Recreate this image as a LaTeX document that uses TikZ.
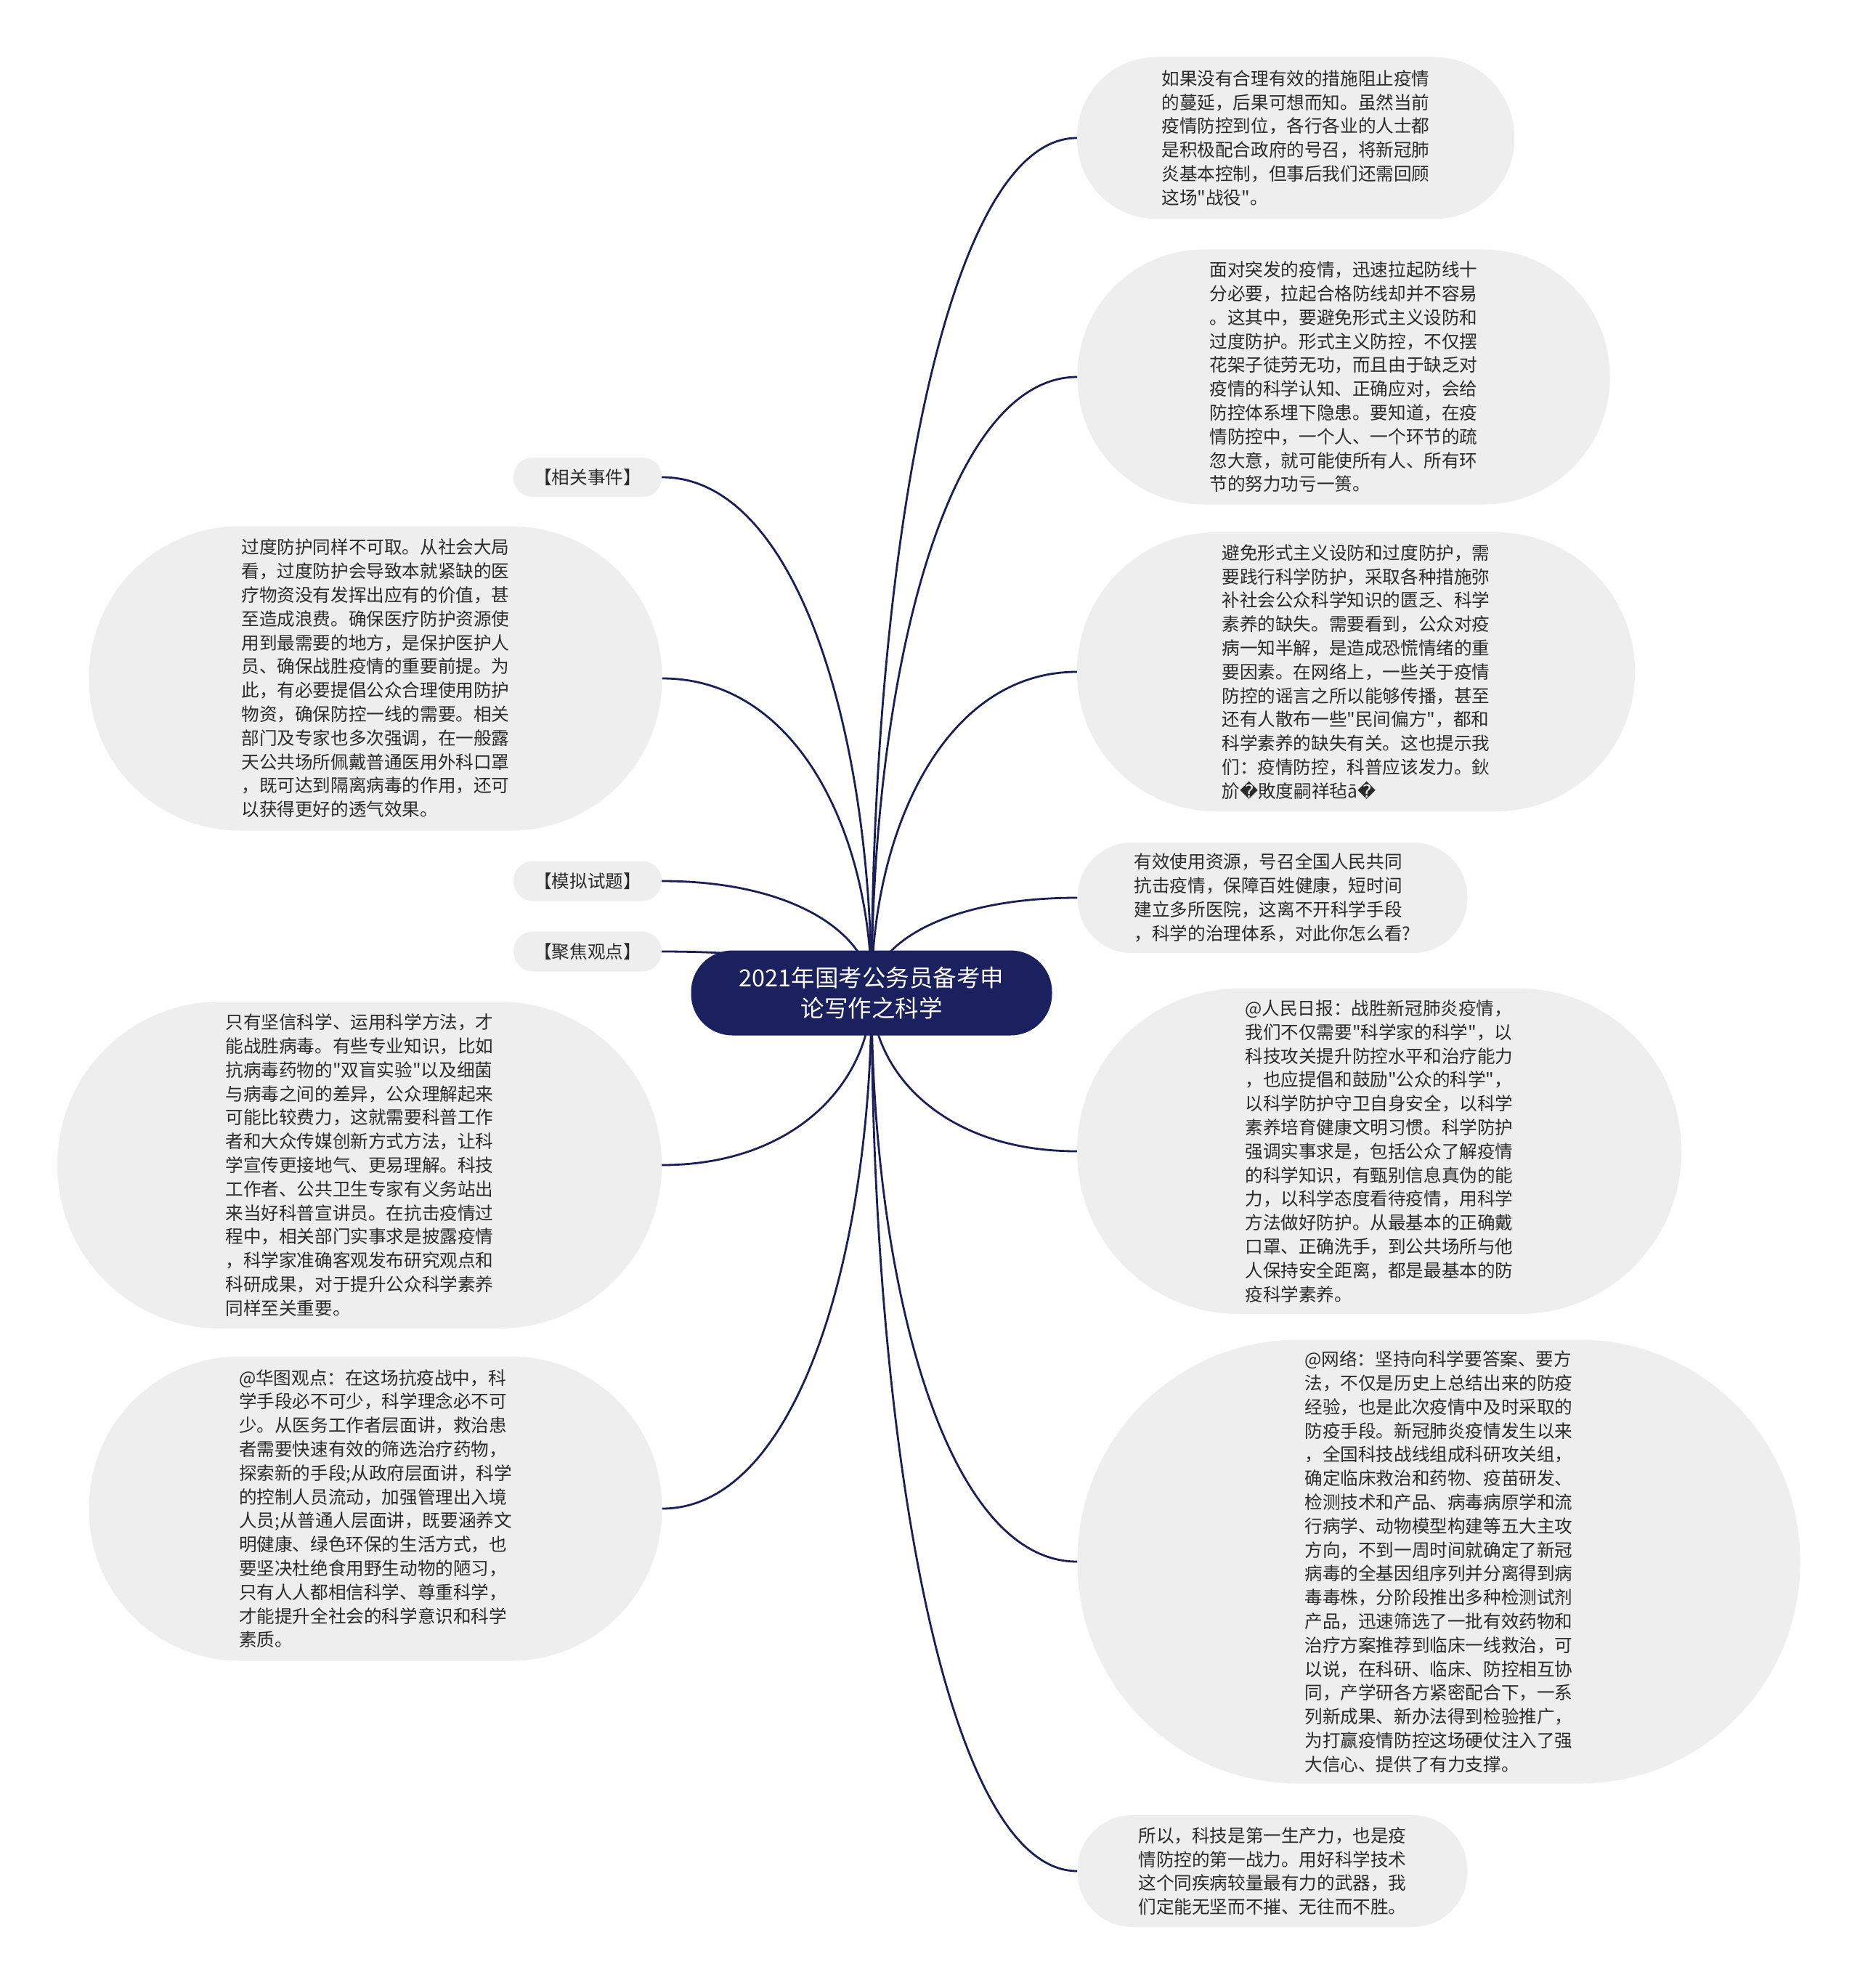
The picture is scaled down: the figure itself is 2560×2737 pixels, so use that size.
\documentclass[tikz,border=0pt]{standalone}
\usepackage{fontspec}
\newfontfamily\cjk{Noto Sans CJK SC}
\newfontfamily\dvs{DejaVu Sans}
\usetikzlibrary{calc}
\definecolor{bubfill}{HTML}{EEEEEE}
\definecolor{txt}{HTML}{2B2B2B}
\definecolor{navy}{HTML}{1B205E}
\definecolor{linecol}{HTML}{1A1F57}
\pgfdeclarelayer{back}
\pgfdeclarelayer{lines}
\pgfsetlayers{back,lines,main}
\newcommand\rplc{{\dvs\symbol{"FFFD}}}
\newcommand\linkto[1]{\draw[conn] (c.center) .. controls ($(c.center)!0.5!(c.center |- #1)$) and ($(#1)!0.65!(#1 -| c.center)$) .. (#1);}
\tikzset{
  bub/.style={fill=bubfill, text=txt, align=left, inner sep=0pt, font=\cjk\fontsize{24.6pt}{32.8pt}\selectfont},
  rootbox/.style={fill=navy, text=white, align=center, inner sep=0pt, font=\cjk\fontsize{32.5pt}{42pt}\selectfont},
  conn/.style={draw=linecol, line width=2.8pt},
}
\begin{document}
\begin{tikzpicture}[x=1pt, y=-1pt]
\useasboundingbox (0,0) rectangle (2560,2737);
\begin{pgfonlayer}{back}
\fill[white] (0,0) rectangle (2560,2737);
\end{pgfonlayer}

% root
\node[rootbox, minimum width=497pt, minimum height=117pt, rounded corners=57pt] (c) at (1200,1367)
 {2021年国考公务员备考申\\论写作之科学};

% right side
\node[bub, minimum width=602pt, minimum height=223pt, rounded corners=110pt] (r1) at (1784,190)
 {如果没有合理有效的措施阻止疫情\\的蔓延，后果可想而知。虽然当前\\疫情防控到位，各行各业的人士都\\是积极配合政府的号召，将新冠肺\\炎基本控制，但事后我们还需回顾\\这场"战役"。};

\node[bub, minimum width=733pt, minimum height=351pt, rounded corners=174pt] (r2) at (1850,519)
 {面对突发的疫情，迅速拉起防线十\\分必要，拉起合格防线却并不容易\\。这其中，要避免形式主义设防和\\过度防护。形式主义防控，不仅摆\\花架子徒劳无功，而且由于缺乏对\\疫情的科学认知、正确应对，会给\\防控体系埋下隐患。要知道，在疫\\情防控中，一个人、一个环节的疏\\忽大意，就可能使所有人、所有环\\节的努力功亏一篑。};

\node[bub, minimum width=768pt, minimum height=384pt, rounded corners=191pt] (r3) at (1867,925)
 {避免形式主义设防和过度防护，需\\要践行科学防护，采取各种措施弥\\补社会公众科学知识的匮乏、科学\\素养的缺失。需要看到，公众对疫\\病一知半解，是造成恐慌情绪的重\\要因素。在网络上，一些关于疫情\\防控的谣言之所以能够传播，甚至\\还有人散布一些"民间偏方"，都和\\科学素养的缺失有关。这也提示我\\们：疫情防控，科普应该发力。鈥\\斺\rplc 敗度嗣祥毡ā\rplc};

\node[bub, minimum width=537pt, minimum height=152pt, rounded corners=75pt] (r4) at (1752,1236)
 {有效使用资源，号召全国人民共同\\抗击疫情，保障百姓健康，短时间\\建立多所医院，这离不开科学手段\\，科学的治理体系，对此你怎么看?};

\node[bub, minimum width=832pt, minimum height=448pt, rounded corners=223pt] (r5) at (1899,1585)
 {@人民日报：战胜新冠肺炎疫情，\\我们不仅需要"科学家的科学"，以\\科技攻关提升防控水平和治疗能力\\，也应提倡和鼓励"公众的科学"，\\以科学防护守卫自身安全，以科学\\素养培育健康文明习惯。科学防护\\强调实事求是，包括公众了解疫情\\的科学知识，有甄别信息真伪的能\\力，以科学态度看待疫情，用科学\\方法做好防护。从最基本的正确戴\\口罩、正确洗手，到公共场所与他\\人保持安全距离，都是最基本的防\\疫科学素养。};

\node[bub, minimum width=995pt, minimum height=611pt, rounded corners=304pt] (r6) at (1981,2150)
 {@网络：坚持向科学要答案、要方\\法，不仅是历史上总结出来的防疫\\经验，也是此次疫情中及时采取的\\防疫手段。新冠肺炎疫情发生以来\\，全国科技战线组成科研攻关组，\\确定临床救治和药物、疫苗研发、\\检测技术和产品、病毒病原学和流\\行病学、动物模型构建等五大主攻\\方向，不到一周时间就确定了新冠\\病毒的全基因组序列并分离得到病\\毒毒株，分阶段推出多种检测试剂\\产品，迅速筛选了一批有效药物和\\治疗方案推荐到临床一线救治，可\\以说，在科研、临床、防控相互协\\同，产学研各方紧密配合下，一系\\列新成果、新办法得到检验推广，\\为打赢疫情防控这场硬仗注入了强\\大信心、提供了有力支撑。};

\node[bub, minimum width=537pt, minimum height=154pt, rounded corners=76pt] (r7) at (1752,2576)
 {所以，科技是第一生产力，也是疫\\情防控的第一战力。用好科学技术\\这个同疾病较量最有力的武器，我\\们定能无坚而不摧、无往而不胜。};

% left side
\node[bub, minimum width=204pt, minimum height=54pt, rounded corners=26pt] (l1) at (809,657) {【相关事件】};

\node[bub, minimum width=789pt, minimum height=419pt, rounded corners=208pt] (l2) at (517,934)
 {过度防护同样不可取。从社会大局\\看，过度防护会导致本就紧缺的医\\疗物资没有发挥出应有的价值，甚\\至造成浪费。确保医疗防护资源使\\用到最需要的地方，是保护医护人\\员、确保战胜疫情的重要前提。为\\此，有必要提倡公众合理使用防护\\物资，确保防控一线的需要。相关\\部门及专家也多次强调，在一般露\\天公共场所佩戴普通医用外科口罩\\，既可达到隔离病毒的作用，还可\\以获得更好的透气效果。};

\node[bub, minimum width=204pt, minimum height=55pt, rounded corners=27pt] (l3) at (809,1213) {【模拟试题】};

\node[bub, minimum width=204pt, minimum height=55pt, rounded corners=27pt] (l4) at (809,1310) {【聚焦观点】};

\node[bub, minimum width=832pt, minimum height=450pt, rounded corners=224pt] (l5) at (495,1604)
 {只有坚信科学、运用科学方法，才\\能战胜病毒。有些专业知识，比如\\抗病毒药物的"双盲实验"以及细菌\\与病毒之间的差异，公众理解起来\\可能比较费力，这就需要科普工作\\者和大众传媒创新方式方法，让科\\学宣传更接地气、更易理解。科技\\工作者、公共卫生专家有义务站出\\来当好科普宣讲员。在抗击疫情过\\程中，相关部门实事求是披露疫情\\，科学家准确客观发布研究观点和\\科研成果，对于提升公众科学素养\\同样至关重要。};

\node[bub, minimum width=789pt, minimum height=419pt, rounded corners=208pt] (l6) at (517,2077)
 {@华图观点：在这场抗疫战中，科\\学手段必不可少，科学理念必不可\\少。从医务工作者层面讲，救治患\\者需要快速有效的筛选治疗药物，\\探索新的手段;从政府层面讲，科学\\的控制人员流动，加强管理出入境\\人员;从普通人层面讲，既要涵养文\\明健康、绿色环保的生活方式，也\\要坚决杜绝食用野生动物的陋习，\\只有人人都相信科学、尊重科学，\\才能提升全社会的科学意识和科学\\素质。};

% connectors
\begin{pgfonlayer}{lines}
\linkto{r1.west}
\linkto{r2.west}
\linkto{r3.west}
\linkto{r4.west}
\linkto{r5.west}
\linkto{r6.west}
\linkto{r7.west}
\linkto{l1.east}
\linkto{l2.east}
\linkto{l3.east}
\linkto{l4.east}
\linkto{l5.east}
\linkto{l6.east}
\end{pgfonlayer}
\end{tikzpicture}
\end{document}
